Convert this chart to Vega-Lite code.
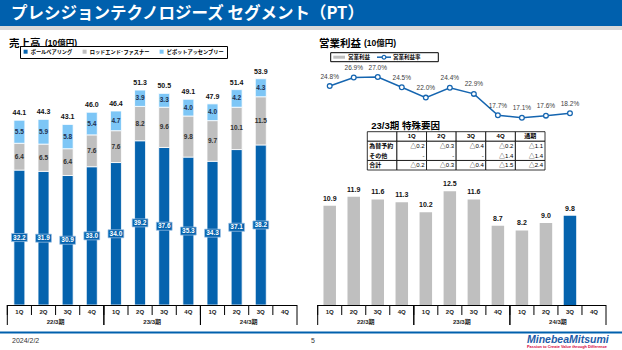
{
  "$schema": "https://vega.github.io/schema/vega-lite/v6.json",
  "width": 622,
  "height": 350,
  "autosize": {"type": "fit", "contains": "padding"},
  "padding": 0,
  "background": "white",
  "config": {
    "view": {"stroke": null},
    "axis": {"disable": true},
    "font": "Liberation Sans, Noto Sans CJK JP",
    "text": {"font": "Liberation Sans, Noto Sans CJK JP"}
  },
  "datasets": {
    "quarters": [
      {"id": "22/3-1Q", "q": "1Q"}, {"id": "22/3-2Q", "q": "2Q"}, {"id": "22/3-3Q", "q": "3Q"}, {"id": "22/3-4Q", "q": "4Q"},
      {"id": "23/3-1Q", "q": "1Q"}, {"id": "23/3-2Q", "q": "2Q"}, {"id": "23/3-3Q", "q": "3Q"}, {"id": "23/3-4Q", "q": "4Q"},
      {"id": "24/3-1Q", "q": "1Q"}, {"id": "24/3-2Q", "q": "2Q"}, {"id": "24/3-3Q", "q": "3Q"}, {"id": "24/3-4Q", "q": "4Q"}
    ],
    "periods": [
      {"period": "22/3期", "first": "22/3-1Q", "mid": "22/3-2Q", "last": "22/3-4Q"},
      {"period": "23/3期", "first": "23/3-1Q", "mid": "23/3-2Q", "last": "23/3-4Q"},
      {"period": "24/3期", "first": "24/3-1Q", "mid": "24/3-2Q", "last": "24/3-4Q"}
    ],
    "sales": [
      {"id": "22/3-1Q", "seg": "ボールベアリング", "k": 1, "v": 32.2}, {"id": "22/3-1Q", "seg": "ロッドエンド･ファスナー", "k": 2, "v": 6.4}, {"id": "22/3-1Q", "seg": "ピボットアッセンブリー", "k": 3, "v": 5.5},
      {"id": "22/3-2Q", "seg": "ボールベアリング", "k": 1, "v": 31.9}, {"id": "22/3-2Q", "seg": "ロッドエンド･ファスナー", "k": 2, "v": 6.5}, {"id": "22/3-2Q", "seg": "ピボットアッセンブリー", "k": 3, "v": 5.9},
      {"id": "22/3-3Q", "seg": "ボールベアリング", "k": 1, "v": 30.9}, {"id": "22/3-3Q", "seg": "ロッドエンド･ファスナー", "k": 2, "v": 6.4}, {"id": "22/3-3Q", "seg": "ピボットアッセンブリー", "k": 3, "v": 5.8},
      {"id": "22/3-4Q", "seg": "ボールベアリング", "k": 1, "v": 33.0}, {"id": "22/3-4Q", "seg": "ロッドエンド･ファスナー", "k": 2, "v": 7.6}, {"id": "22/3-4Q", "seg": "ピボットアッセンブリー", "k": 3, "v": 5.4},
      {"id": "23/3-1Q", "seg": "ボールベアリング", "k": 1, "v": 34.0}, {"id": "23/3-1Q", "seg": "ロッドエンド･ファスナー", "k": 2, "v": 7.6}, {"id": "23/3-1Q", "seg": "ピボットアッセンブリー", "k": 3, "v": 4.7},
      {"id": "23/3-2Q", "seg": "ボールベアリング", "k": 1, "v": 39.2}, {"id": "23/3-2Q", "seg": "ロッドエンド･ファスナー", "k": 2, "v": 8.2}, {"id": "23/3-2Q", "seg": "ピボットアッセンブリー", "k": 3, "v": 3.9},
      {"id": "23/3-3Q", "seg": "ボールベアリング", "k": 1, "v": 37.6}, {"id": "23/3-3Q", "seg": "ロッドエンド･ファスナー", "k": 2, "v": 9.6}, {"id": "23/3-3Q", "seg": "ピボットアッセンブリー", "k": 3, "v": 3.3},
      {"id": "23/3-4Q", "seg": "ボールベアリング", "k": 1, "v": 35.3}, {"id": "23/3-4Q", "seg": "ロッドエンド･ファスナー", "k": 2, "v": 9.8}, {"id": "23/3-4Q", "seg": "ピボットアッセンブリー", "k": 3, "v": 4.0},
      {"id": "24/3-1Q", "seg": "ボールベアリング", "k": 1, "v": 34.3}, {"id": "24/3-1Q", "seg": "ロッドエンド･ファスナー", "k": 2, "v": 9.7}, {"id": "24/3-1Q", "seg": "ピボットアッセンブリー", "k": 3, "v": 4.0},
      {"id": "24/3-2Q", "seg": "ボールベアリング", "k": 1, "v": 37.1}, {"id": "24/3-2Q", "seg": "ロッドエンド･ファスナー", "k": 2, "v": 10.1}, {"id": "24/3-2Q", "seg": "ピボットアッセンブリー", "k": 3, "v": 4.2},
      {"id": "24/3-3Q", "seg": "ボールベアリング", "k": 1, "v": 38.2}, {"id": "24/3-3Q", "seg": "ロッドエンド･ファスナー", "k": 2, "v": 11.5}, {"id": "24/3-3Q", "seg": "ピボットアッセンブリー", "k": 3, "v": 4.3}
    ],
    "totals": [
      {"id": "22/3-1Q", "total": 44.1}, {"id": "22/3-2Q", "total": 44.3}, {"id": "22/3-3Q", "total": 43.1}, {"id": "22/3-4Q", "total": 46.0},
      {"id": "23/3-1Q", "total": 46.4}, {"id": "23/3-2Q", "total": 51.3}, {"id": "23/3-3Q", "total": 50.5}, {"id": "23/3-4Q", "total": 49.1},
      {"id": "24/3-1Q", "total": 47.9}, {"id": "24/3-2Q", "total": 51.4}, {"id": "24/3-3Q", "total": 53.9}
    ],
    "op": [
      {"id": "22/3-1Q", "profit": 10.9, "margin": 0.248}, {"id": "22/3-2Q", "profit": 11.9, "margin": 0.269},
      {"id": "22/3-3Q", "profit": 11.6, "margin": 0.270}, {"id": "22/3-4Q", "profit": 11.3, "margin": 0.245},
      {"id": "23/3-1Q", "profit": 10.2, "margin": 0.220}, {"id": "23/3-2Q", "profit": 12.5, "margin": 0.244},
      {"id": "23/3-3Q", "profit": 11.6, "margin": 0.229}, {"id": "23/3-4Q", "profit": 8.7, "margin": 0.177},
      {"id": "24/3-1Q", "profit": 8.2, "margin": 0.171}, {"id": "24/3-2Q", "profit": 9.0, "margin": 0.176},
      {"id": "24/3-3Q", "profit": 9.8, "margin": 0.182}
    ],
    "cells": [
      {"row": "hdr", "col": "項目", "val": ""}, {"row": "hdr", "col": "1Q", "val": "1Q"}, {"row": "hdr", "col": "2Q", "val": "2Q"}, {"row": "hdr", "col": "3Q", "val": "3Q"}, {"row": "hdr", "col": "4Q", "val": "4Q"}, {"row": "hdr", "col": "通期", "val": "通期"},
      {"row": "為替予約", "col": "項目", "val": "為替予約"}, {"row": "為替予約", "col": "1Q", "val": "△0.2"}, {"row": "為替予約", "col": "2Q", "val": "△0.3"}, {"row": "為替予約", "col": "3Q", "val": "△0.4"}, {"row": "為替予約", "col": "4Q", "val": "△0.2"}, {"row": "為替予約", "col": "通期", "val": "△1.1"},
      {"row": "その他", "col": "項目", "val": "その他"}, {"row": "その他", "col": "1Q", "val": "-"}, {"row": "その他", "col": "2Q", "val": "-"}, {"row": "その他", "col": "3Q", "val": "-"}, {"row": "その他", "col": "4Q", "val": "△1.4"}, {"row": "その他", "col": "通期", "val": "△1.4"},
      {"row": "合計", "col": "項目", "val": "合計"}, {"row": "合計", "col": "1Q", "val": "△0.2"}, {"row": "合計", "col": "2Q", "val": "△0.3"}, {"row": "合計", "col": "3Q", "val": "△0.4"}, {"row": "合計", "col": "4Q", "val": "△1.5"}, {"row": "合計", "col": "通期", "val": "△2.4"}
    ]
  },
  "layer": [
    {
      "layer": [
        {"data": {"values": [{}]}, "mark": {"type": "rect", "color": "#0060ad"}, "encoding": {"x": {"value": 0}, "x2": {"value": 622}, "y": {"value": 0}, "y2": {"value": 26}}},
        {"data": {"values": [{}]}, "mark": {"type": "rect", "color": "#d9d9d9"}, "encoding": {"x": {"value": 0}, "x2": {"value": 622}, "y": {"value": 26}, "y2": {"value": 30}}},
        {"data": {"values": [{}]}, "mark": {"type": "rect", "color": "#0060ad"}, "encoding": {"x": {"value": 0}, "x2": {"value": 622}, "y": {"value": 331.5}, "y2": {"value": 333.5}}},
        {"data": {"values": [{"t": "プレシジョンテクノロジーズ セグメント（PT）"}]}, "mark": {"type": "text", "align": "left", "baseline": "middle", "color": "white", "fontSize": 16.5, "fontWeight": "bold", "font": "Noto Sans CJK JP"}, "encoding": {"x": {"value": 11}, "y": {"value": 13.5}, "text": {"field": "t"}}},
        {"data": {"values": [{"t": "売上高"}]}, "mark": {"type": "text", "align": "left", "baseline": "alphabetic", "color": "black", "fontSize": 10.5, "fontWeight": "bold", "font": "Noto Sans CJK JP"}, "encoding": {"x": {"value": 9}, "y": {"value": 46.5}, "text": {"field": "t"}}},
        {"data": {"values": [{"t": "(10億円)"}]}, "mark": {"type": "text", "align": "left", "baseline": "alphabetic", "color": "black", "fontSize": 8.5, "fontWeight": "bold"}, "encoding": {"x": {"value": 45}, "y": {"value": 46}, "text": {"field": "t"}}},
        {"data": {"values": [{"t": "営業利益"}]}, "mark": {"type": "text", "align": "left", "baseline": "alphabetic", "color": "black", "fontSize": 10.5, "fontWeight": "bold", "font": "Noto Sans CJK JP"}, "encoding": {"x": {"value": 319}, "y": {"value": 46.5}, "text": {"field": "t"}}},
        {"data": {"values": [{"t": "(10億円)"}]}, "mark": {"type": "text", "align": "left", "baseline": "alphabetic", "color": "black", "fontSize": 8.5, "fontWeight": "bold"}, "encoding": {"x": {"value": 364}, "y": {"value": 46}, "text": {"field": "t"}}},
        {"data": {"values": [{}]}, "mark": {"type": "rect", "fill": "white", "stroke": "black", "strokeWidth": 1}, "encoding": {"x": {"value": 330.7}, "x2": {"value": 438.3}, "y": {"value": 52.7}, "y2": {"value": 61.7}}},
        {"data": {"values": [{}]}, "mark": {"type": "rect", "color": "#bfbfbf"}, "encoding": {"x": {"value": 333.3}, "x2": {"value": 345}, "y": {"value": 55.7}, "y2": {"value": 58.7}}},
        {"data": {"values": [{}]}, "mark": {"type": "rule", "color": "#1565b0", "strokeWidth": 1.5}, "encoding": {"x": {"value": 377}, "x2": {"value": 391}, "y": {"value": 57.2}}},
        {"data": {"values": [{}]}, "mark": {"type": "point", "shape": "circle", "filled": true, "fill": "white", "stroke": "#1565b0", "strokeWidth": 1.2, "size": 14, "opacity": 1}, "encoding": {"x": {"value": 384}, "y": {"value": 57.2}}},
        {"data": {"values": [{"t": "営業利益"}]}, "mark": {"type": "text", "align": "left", "baseline": "middle", "color": "black", "fontSize": 5.5, "fontWeight": "bold", "font": "Noto Sans CJK JP"}, "encoding": {"x": {"value": 348}, "y": {"value": 57.4}, "text": {"field": "t"}}},
        {"data": {"values": [{"t": "営業利益率"}]}, "mark": {"type": "text", "align": "left", "baseline": "middle", "color": "black", "fontSize": 5.5, "fontWeight": "bold", "font": "Noto Sans CJK JP"}, "encoding": {"x": {"value": 393}, "y": {"value": 57.4}, "text": {"field": "t"}}},
        {"data": {"values": [{"t": "2024/2/2"}]}, "mark": {"type": "text", "align": "left", "baseline": "middle", "color": "#333333", "fontSize": 7}, "encoding": {"x": {"value": 12}, "y": {"value": 341}, "text": {"field": "t"}}},
        {"data": {"values": [{"t": "5"}]}, "mark": {"type": "text", "align": "center", "baseline": "middle", "color": "#333333", "fontSize": 7}, "encoding": {"x": {"value": 313}, "y": {"value": 341}, "text": {"field": "t"}}},
        {"data": {"values": [{"t": "MinebeaMitsumi"}]}, "mark": {"type": "text", "align": "left", "baseline": "alphabetic", "color": "#1c5ba8", "fontSize": 10.5, "fontWeight": "bold", "fontStyle": "italic"}, "encoding": {"x": {"value": 527}, "y": {"value": 342.5}, "text": {"field": "t"}}},
        {"data": {"values": [{"t": "Passion to Create Value through Difference"}]}, "mark": {"type": "text", "align": "left", "baseline": "middle", "color": "#d7003a", "fontSize": 3.9, "fontWeight": "bold"}, "encoding": {"x": {"value": 527}, "y": {"value": 346.5}, "text": {"field": "t"}}}
      ]
    },
    {
      "layer": [
        {
          "data": {"name": "sales"},
          "mark": {"type": "bar", "width": {"band": 0.455}, "stroke": "white", "strokeWidth": 0.8},
          "encoding": {
            "x": {"field": "id", "type": "nominal", "axis": null, "scale": {"type": "band", "domain": ["22/3-1Q","22/3-2Q","22/3-3Q","22/3-4Q","23/3-1Q","23/3-2Q","23/3-3Q","23/3-4Q","24/3-1Q","24/3-2Q","24/3-3Q","24/3-4Q"], "range": [7.3, 297], "paddingInner": 0, "paddingOuter": 0}},
            "y": {"field": "v", "type": "quantitative", "stack": "zero", "axis": null, "scale": {"domain": [0, 60], "range": [305, 53.6], "nice": false}},
            "color": {
              "field": "seg", "type": "nominal",
              "scale": {"domain": ["ボールベアリング", "ロッドエンド･ファスナー", "ピボットアッセンブリー"], "range": ["#0563ae", "#bfbfbf", "#7dc6f6"]},
              "legend": {"orient": "none", "legendX": 20, "legendY": 46, "direction": "horizontal", "title": null, "strokeColor": "black", "fillColor": "white", "padding": 3, "symbolType": "square", "symbolSize": 16, "symbolStrokeWidth": 0, "labelFontSize": 5.2, "labelFontWeight": "bold", "labelColor": "black", "labelFont": "Noto Sans CJK JP", "columnPadding": 9, "labelOffset": 2.5, "labelLimit": 0}
            },
            "order": {"field": "k", "type": "quantitative"}
          }
        },
        {
          "data": {"name": "sales"},
          "transform": [
            {"stack": "v", "groupby": ["id"], "sort": [{"field": "k", "order": "ascending"}], "as": ["v0", "v1"]},
            {"filter": "datum.seg === 'ボールベアリング'"},
            {"fold": ["v0", "v1"], "as": ["edge", "ev"]},
            {"aggregate": [{"op": "mean", "field": "ev", "as": "mid"}], "groupby": ["id", "seg"]}
          ],
          "mark": {"type": "point", "shape": "M-1,-0.51H1V0.51H-1Z", "filled": true, "fill": "#0563ae", "stroke": "#9fc3e7", "strokeWidth": 0.7, "size": 250, "opacity": 1},
          "encoding": {
            "x": {"field": "id", "type": "nominal"},
            "y": {"field": "mid", "type": "quantitative"}
          }
        },
        {
          "data": {"name": "sales"},
          "transform": [
            {"stack": "v", "groupby": ["id"], "sort": [{"field": "k", "order": "ascending"}], "as": ["v0", "v1"]},
            {"fold": ["v0", "v1"], "as": ["edge", "ev"]},
            {"aggregate": [{"op": "mean", "field": "ev", "as": "mid"}, {"op": "max", "field": "v", "as": "val"}], "groupby": ["id", "seg"]}
          ],
          "mark": {"type": "text", "fontSize": 6.5, "fontWeight": "bold", "baseline": "middle"},
          "encoding": {
            "x": {"field": "id", "type": "nominal"},
            "y": {"field": "mid", "type": "quantitative"},
            "text": {"field": "val", "type": "quantitative", "format": ".1f"},
            "color": {"condition": [{"test": "datum.seg === 'ボールベアリング'", "value": "white"}, {"test": "datum.seg === 'ピボットアッセンブリー'", "value": "#1f3050"}], "value": "#303030"}
          }
        },
        {
          "data": {"name": "totals"},
          "mark": {"type": "text", "fontSize": 7, "fontWeight": "bold", "baseline": "middle", "dy": -7, "color": "#111111"},
          "encoding": {
            "x": {"field": "id", "type": "nominal"},
            "y": {"field": "total", "type": "quantitative"},
            "text": {"field": "total", "type": "quantitative", "format": ".1f"}
          }
        },
        {"data": {"name": "quarters"}, "mark": {"type": "rect", "color": "black", "y2Offset": 1}, "encoding": {"x": {"field": "id", "type": "nominal"}, "y": {"datum": 0, "type": "quantitative"}, "y2": {"datum": 0}}},
        {"data": {"name": "quarters"}, "mark": {"type": "rule", "color": "black", "strokeWidth": 1, "y2Offset": 10}, "encoding": {"x": {"field": "id", "type": "nominal", "bandPosition": 0}, "y": {"datum": 0, "type": "quantitative"}, "y2": {"datum": 0}}},
        {"data": {"name": "periods"}, "mark": {"type": "rule", "color": "black", "strokeWidth": 1, "y2Offset": 20}, "encoding": {"x": {"field": "first", "type": "nominal", "bandPosition": 0}, "y": {"datum": 0, "type": "quantitative"}, "y2": {"datum": 0}}},
        {"data": {"name": "periods"}, "mark": {"type": "rule", "color": "black", "strokeWidth": 1, "y2Offset": 20}, "encoding": {"x": {"field": "last", "type": "nominal", "bandPosition": 1}, "y": {"datum": 0, "type": "quantitative"}, "y2": {"datum": 0}}},
        {"data": {"name": "quarters"}, "mark": {"type": "text", "fontSize": 6, "fontWeight": "bold", "baseline": "middle", "dy": 7, "color": "#222222"}, "encoding": {"x": {"field": "id", "type": "nominal"}, "y": {"datum": 0, "type": "quantitative"}, "text": {"field": "q"}}},
        {"data": {"name": "periods"}, "mark": {"type": "text", "fontSize": 6, "fontWeight": "bold", "baseline": "middle", "dy": 17, "color": "#222222"}, "encoding": {"x": {"field": "mid", "type": "nominal", "bandPosition": 1}, "y": {"datum": 0, "type": "quantitative"}, "text": {"field": "period"}}}
      ]
    },
    {
      "layer": [
        {
          "data": {"name": "op"},
          "mark": {"type": "bar", "width": {"band": 0.52}},
          "encoding": {
            "x": {"field": "id", "type": "nominal", "axis": null, "scale": {"type": "band", "domain": ["22/3-1Q","22/3-2Q","22/3-3Q","22/3-4Q","23/3-1Q","23/3-2Q","23/3-3Q","23/3-4Q","24/3-1Q","24/3-2Q","24/3-3Q","24/3-4Q"], "range": [317.7, 606], "paddingInner": 0, "paddingOuter": 0}},
            "y": {"field": "profit", "type": "quantitative", "axis": null, "scale": {"domain": [0, 20], "range": [305, 123], "nice": false}},
            "color": {"condition": {"test": "datum.id === '24/3-3Q'", "value": "#0563ae"}, "value": "#bfbfbf"}
          }
        },
        {
          "data": {"name": "op"},
          "mark": {"type": "text", "fontSize": 7, "fontWeight": "bold", "baseline": "middle", "dy": -7, "color": "#111111"},
          "encoding": {
            "x": {"field": "id", "type": "nominal"},
            "y": {"field": "profit", "type": "quantitative"},
            "text": {"field": "profit", "type": "quantitative", "format": ".1f"}
          }
        },
        {"data": {"name": "quarters"}, "mark": {"type": "rect", "color": "black", "y2Offset": 1}, "encoding": {"x": {"field": "id", "type": "nominal"}, "y": {"datum": 0, "type": "quantitative"}, "y2": {"datum": 0}}},
        {"data": {"name": "quarters"}, "mark": {"type": "rule", "color": "black", "strokeWidth": 1, "y2Offset": 10}, "encoding": {"x": {"field": "id", "type": "nominal", "bandPosition": 0}, "y": {"datum": 0, "type": "quantitative"}, "y2": {"datum": 0}}},
        {"data": {"name": "periods"}, "mark": {"type": "rule", "color": "black", "strokeWidth": 1, "y2Offset": 20}, "encoding": {"x": {"field": "first", "type": "nominal", "bandPosition": 0}, "y": {"datum": 0, "type": "quantitative"}, "y2": {"datum": 0}}},
        {"data": {"name": "periods"}, "mark": {"type": "rule", "color": "black", "strokeWidth": 1, "y2Offset": 20}, "encoding": {"x": {"field": "last", "type": "nominal", "bandPosition": 1}, "y": {"datum": 0, "type": "quantitative"}, "y2": {"datum": 0}}},
        {"data": {"name": "quarters"}, "mark": {"type": "text", "fontSize": 6, "fontWeight": "bold", "baseline": "middle", "dy": 7, "color": "#222222"}, "encoding": {"x": {"field": "id", "type": "nominal"}, "y": {"datum": 0, "type": "quantitative"}, "text": {"field": "q"}}},
        {"data": {"name": "periods"}, "mark": {"type": "text", "fontSize": 6, "fontWeight": "bold", "baseline": "middle", "dy": 17, "color": "#222222"}, "encoding": {"x": {"field": "mid", "type": "nominal", "bandPosition": 1}, "y": {"datum": 0, "type": "quantitative"}, "text": {"field": "period"}}}
      ]
    },
    {
      "layer": [
        {
          "data": {"name": "op"},
          "mark": {"type": "line", "strokeWidth": 1.5, "color": "#1565b0"},
          "encoding": {
            "x": {"field": "id", "type": "nominal", "axis": null, "scale": {"type": "band", "domain": ["22/3-1Q","22/3-2Q","22/3-3Q","22/3-4Q","23/3-1Q","23/3-2Q","23/3-3Q","23/3-4Q","24/3-1Q","24/3-2Q","24/3-3Q","24/3-4Q"], "range": [317.7, 606], "paddingInner": 0, "paddingOuter": 0}},
            "y": {"field": "margin", "type": "quantitative", "axis": null, "scale": {"domain": [0, 0.3], "range": [188, 64.7], "nice": false}}
          }
        },
        {
          "data": {"name": "op"},
          "mark": {"type": "point", "shape": "circle", "filled": true, "fill": "white", "stroke": "#1565b0", "strokeWidth": 1.3, "size": 22, "opacity": 1},
          "encoding": {
            "x": {"field": "id", "type": "nominal"},
            "y": {"field": "margin", "type": "quantitative"}
          }
        },
        {
          "data": {"name": "op"},
          "mark": {"type": "text", "fontSize": 6.5, "baseline": "middle", "dy": -9.5, "color": "#404040"},
          "encoding": {
            "x": {"field": "id", "type": "nominal"},
            "y": {"field": "margin", "type": "quantitative"},
            "text": {"field": "margin", "type": "quantitative", "format": ".1%"}
          }
        }
      ]
    },
    {
      "layer": [
        {
          "data": {"name": "cells"},
          "transform": [{"filter": "datum.row === 'hdr' || datum.row === '合計'"}],
          "mark": {"type": "rect", "fill": "white", "stroke": "black", "strokeWidth": 0.8},
          "encoding": {
            "x": {"field": "col", "type": "nominal", "axis": null, "scale": {"type": "band", "domain": ["項目", "1Q", "2Q", "3Q", "4Q", "通期"], "range": [367.3, 545], "paddingInner": 0, "paddingOuter": 0}},
            "y": {"field": "row", "type": "nominal", "axis": null, "scale": {"type": "band", "domain": ["hdr", "為替予約", "その他", "合計"], "range": [131.7, 170], "paddingInner": 0, "paddingOuter": 0}}
          }
        },
        {
          "data": {"name": "cells"},
          "transform": [{"filter": "datum.row === '為替予約'"}],
          "mark": {"type": "rect", "fill": "white", "stroke": "black", "strokeWidth": 0.8},
          "encoding": {
            "x": {"field": "col", "type": "nominal"},
            "y": {"datum": "為替予約", "type": "nominal", "bandPosition": 0},
            "y2": {"datum": "その他", "bandPosition": 1}
          }
        },
        {
          "data": {"name": "cells"},
          "transform": [{"filter": "datum.row === 'hdr'"}],
          "mark": {"type": "text", "fontSize": 6, "fontWeight": "bold", "baseline": "middle", "align": "center", "color": "black"},
          "encoding": {
            "x": {"field": "col", "type": "nominal"},
            "y": {"field": "row", "type": "nominal"},
            "text": {"field": "val"}
          }
        },
        {
          "data": {"name": "cells"},
          "transform": [{"filter": "datum.col === '項目' && datum.row !== 'hdr'"}],
          "mark": {"type": "text", "fontSize": 6, "fontWeight": "bold", "baseline": "middle", "align": "left", "dx": 2, "color": "black"},
          "encoding": {
            "x": {"field": "col", "type": "nominal", "bandPosition": 0},
            "y": {"field": "row", "type": "nominal"},
            "text": {"field": "val"}
          }
        },
        {
          "data": {"name": "cells"},
          "transform": [{"filter": "datum.col !== '項目' && datum.row !== 'hdr'"}],
          "mark": {"type": "text", "fontSize": 6, "baseline": "middle", "align": "right", "dx": -2, "color": "black"},
          "encoding": {
            "x": {"field": "col", "type": "nominal", "bandPosition": 1},
            "y": {"field": "row", "type": "nominal"},
            "text": {"field": "val"}
          }
        },
        {
          "data": {"values": [{"t": "23/3期  特殊要因"}]},
          "mark": {"type": "text", "fontSize": 9.5, "fontWeight": "bold", "baseline": "bottom", "align": "left", "dx": 4, "dy": -1, "color": "black"},
          "encoding": {
            "x": {"datum": "項目", "type": "nominal", "bandPosition": 0},
            "y": {"datum": "hdr", "type": "nominal", "bandPosition": 0},
            "text": {"field": "t"}
          }
        }
      ]
    }
  ],
  "resolve": {"scale": {"x": "independent", "y": "independent", "color": "independent"}}
}
